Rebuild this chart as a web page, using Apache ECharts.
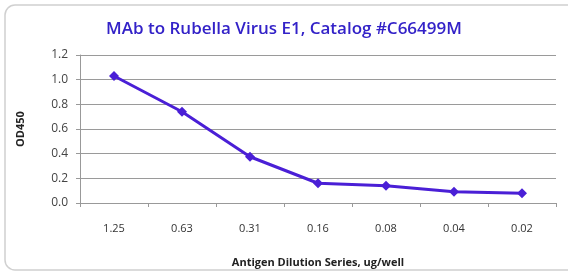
<!DOCTYPE html>
<html>
<head>
<meta charset="utf-8">
<script src="https://cdn.jsdelivr.net/npm/echarts@6/dist/echarts.min.js"></script>
<style>
  html, body { margin: 0; padding: 0; background: #fff; }
  #chart { width: 568px; height: 273px; }
</style>
</head>
<body>
<div id="chart"></div>
<script>
// dilution series (ug/well) and OD450 readings
var dilutions = ['1.25', '0.63', '0.31', '0.16', '0.08', '0.04', '0.02'];
var od450 = [1.03, 0.74, 0.375, 0.16, 0.14, 0.092, 0.08];

var chart = echarts.init(document.getElementById('chart'));

var option = {
    backgroundColor: '#fff',
    animation: false,
    title: {
        text: 'MAb to Rubella Virus E1, Catalog #C66499M',
        left: 'center',
        top: 16,
        textStyle: {
            color: '#3322c8',
            fontFamily: 'Open Sans',
            fontWeight: 600,
            fontSize: 17
        }
    },
    graphic: [{
        type: 'rect',
        shape: { x: 5, y: 5, width: 580, height: 265, r: 10 },
        style: { fill: 'none', stroke: '#d0d0d0', lineWidth: 1.5 },
        silent: true
    }],
    grid: {
        left: 80,
        right: 12,
        top: 55,
        bottom: 70
    },
    xAxis: {
        type: 'category',
        data: dilutions,
        boundaryGap: true,
        name: 'Antigen Dilution Series, ug/well',
        nameLocation: 'middle',
        nameGap: 54,
        nameTextStyle: { fontFamily: 'Open Sans', fontWeight: 'bold', fontSize: 11, color: '#222' },
        axisLine: { lineStyle: { color: '#999', width: 1 } },
        axisTick: { show: true, length: 4, lineStyle: { color: '#999' } },
        axisLabel: { fontFamily: 'Open Sans', fontSize: 11, color: '#333', margin: 20 }
    },
    yAxis: {
        type: 'value',
        min: 0,
        max: 1.2,
        interval: 0.2,
        name: 'OD450',
        nameLocation: 'middle',
        nameGap: 54,
        nameRotate: 90,
        nameTextStyle: { fontFamily: 'Open Sans', fontWeight: 'bold', fontSize: 11, color: '#222' },
        axisLine: { show: true, lineStyle: { color: '#999' } },
        axisTick: { show: true, length: 4, lineStyle: { color: '#999' } },
        axisLabel: {
            fontFamily: 'Open Sans', fontSize: 12, color: '#444', margin: 12,
            formatter: function (v) { return v.toFixed(1); }
        },
        splitLine: { show: true, lineStyle: { color: '#9a9a9a', width: 1 } }
    },
    series: [{
        type: 'line',
        data: od450,
        symbol: 'diamond',
        symbolSize: 10,
        lineStyle: { color: '#4a1fd6', width: 3 },
        itemStyle: { color: '#4a1fd6' }
    }]
};

chart.setOption(option);
</script>
</body>
</html>
